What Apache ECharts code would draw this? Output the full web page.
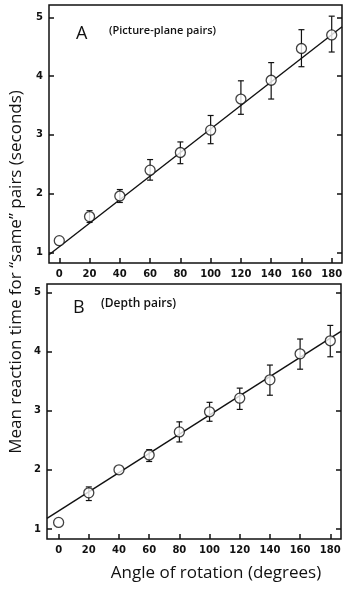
<!DOCTYPE html>
<html><head><meta charset="utf-8">
<script src="https://cdn.jsdelivr.net/npm/echarts@6/dist/echarts.min.js"></script>
<style>html,body{margin:0;padding:0;background:#fff}#c{width:350px;height:589px}</style>
</head><body><div id="c"></div>
<script>
const angles = [0, 20, 40, 60, 80, 100, 120, 140, 160, 180];
const xTicks = [0, 20, 40, 60, 80, 100, 120, 140, 160, 180];
const yTicks = [1, 2, 3, 4, 5];

// Panel A: picture-plane pairs
const meansA = [1.20, 1.61, 1.96, 2.40, 2.70, 3.08, 3.61, 3.93, 4.47, 4.70];
const upperA = [null, 1.71, 2.07, 2.58, 2.88, 3.33, 3.92, 4.23, 4.79, 5.02];
const lowerA = [null, 1.51, 1.85, 2.23, 2.51, 2.85, 3.35, 3.61, 4.16, 4.41];
const fitA = [[-6.8, 0.96], [186.8, 4.84]];

// Panel B: depth pairs
const meansB = [1.11, 1.61, 2.00, 2.25, 2.64, 2.98, 3.21, 3.52, 3.96, 4.18];
const upperB = [null, 1.71, null, 2.34, 2.81, 3.14, 3.38, 3.77, 4.21, 4.44];
const lowerB = [null, 1.48, null, 2.14, 2.47, 2.82, 3.02, 3.26, 3.70, 3.91];
const fitB = [[-7.7, 1.18], [187.1, 4.34]];

const labelFont = {color: '#111', fontFamily: 'DejaVu Sans', fontWeight: 'bold', fontSize: 10};

function xAxisCfg(gi, min, max) {
  return {type: 'value', gridIndex: gi, min: min, max: max,
    axisLine: {show: false, onZero: false}, splitLine: {show: false},
    axisTick: {show: true, inside: true, length: 5, customValues: xTicks, lineStyle: {color: '#111', width: 1.5}},
    axisLabel: Object.assign({show: true, margin: 6, customValues: xTicks}, labelFont)};
}
function yAxisCfg(gi, min, max, right) {
  return {type: 'value', gridIndex: gi, min: min, max: max, position: right ? 'right' : 'left',
    axisLine: {show: false, onZero: false}, splitLine: {show: false},
    axisTick: {show: true, inside: true, length: 5, customValues: yTicks, lineStyle: {color: '#111', width: 1.5}},
    axisLabel: Object.assign({show: !right, margin: 6, customValues: yTicks}, labelFont)};
}
function errData(lo, hi) {
  const d = [];
  for (let i = 0; i < angles.length; i++) if (lo[i] != null) d.push([angles[i], lo[i], hi[i]]);
  return d;
}
function errSeries(gi, lo, hi) {
  return {type: 'custom', xAxisIndex: gi, yAxisIndex: gi * 2, data: errData(lo, hi), z: 2,
    renderItem: function (params, api) {
      const x = api.value(0);
      const p1 = api.coord([x, api.value(1)]);
      const p2 = api.coord([x, api.value(2)]);
      const w = 3;
      const st = {stroke: '#111', lineWidth: 1.2};
      return {type: 'group', children: [
        {type: 'line', shape: {x1: p1[0], y1: p1[1], x2: p2[0], y2: p2[1]}, style: st},
        {type: 'line', shape: {x1: p1[0] - w, y1: p1[1], x2: p1[0] + w, y2: p1[1]}, style: st},
        {type: 'line', shape: {x1: p2[0] - w, y1: p2[1], x2: p2[0] + w, y2: p2[1]}, style: st}
      ]};
    }};
}
function pts(gi, means) {
  return {type: 'scatter', xAxisIndex: gi, yAxisIndex: gi * 2, symbol: 'circle', symbolSize: 10, z: 4,
    itemStyle: {color: '#fff', borderColor: '#111', borderWidth: 1.3},
    data: angles.map((a, i) => [a, means[i]])};
}
function fit(gi, d) {
  return {type: 'line', xAxisIndex: gi, yAxisIndex: gi * 2, data: d, symbol: 'none', z: 3,
    lineStyle: {color: '#111', width: 1.4}};
}

const chart = echarts.init(document.getElementById('c'));
chart.setOption({
  animation: false,
  backgroundColor: '#fff',
  grid: [
    {left: 49, right: 8, top: 5, height: 258, show: true, borderColor: '#111', borderWidth: 1.5, backgroundColor: 'transparent'},
    {left: 47, right: 9, top: 284, height: 255, show: true, borderColor: '#111', borderWidth: 1.5, backgroundColor: 'transparent'}
  ],
  xAxis: [xAxisCfg(0, -6.8, 186.8), xAxisCfg(1, -7.7, 187.1)],
  yAxis: [yAxisCfg(0, 0.82, 5.21, false), yAxisCfg(0, 0.82, 5.21, true),
          yAxisCfg(1, 0.83, 5.14, false), yAxisCfg(1, 0.83, 5.14, true)],
  series: [
    fit(0, fitA), errSeries(0, lowerA, upperA), pts(0, meansA),
    fit(1, fitB), errSeries(1, lowerB, upperB), pts(1, meansB)
  ],
  graphic: [
    {type: 'text', left: 76, top: 25, style: {text: 'A', font: '18px "Open Sans"', fill: '#111'}},
    {type: 'text', left: 109, top: 25, style: {text: '(Picture-plane pairs)', font: '600 11px "Open Sans"', fill: '#111'}},
    {type: 'text', left: 73, top: 299, style: {text: 'B', font: '18px "Open Sans"', fill: '#111'}},
    {type: 'text', left: 101, top: 298, style: {text: '(Depth pairs)', font: '600 12px "Open Sans"', fill: '#111'}},
    {type: 'text', x: 16, y: 272, rotation: Math.PI / 2,
      style: {text: 'Mean reaction time for \u201csame\u201d pairs (seconds)', font: '17px "Open Sans"', fill: '#111', align: 'center', verticalAlign: 'middle'}},
    {type: 'text', x: 216, y: 573,
      style: {text: 'Angle of rotation (degrees)', font: '17px "Open Sans"', fill: '#111', align: 'center', verticalAlign: 'middle'}}
  ]
});
</script></body></html>
